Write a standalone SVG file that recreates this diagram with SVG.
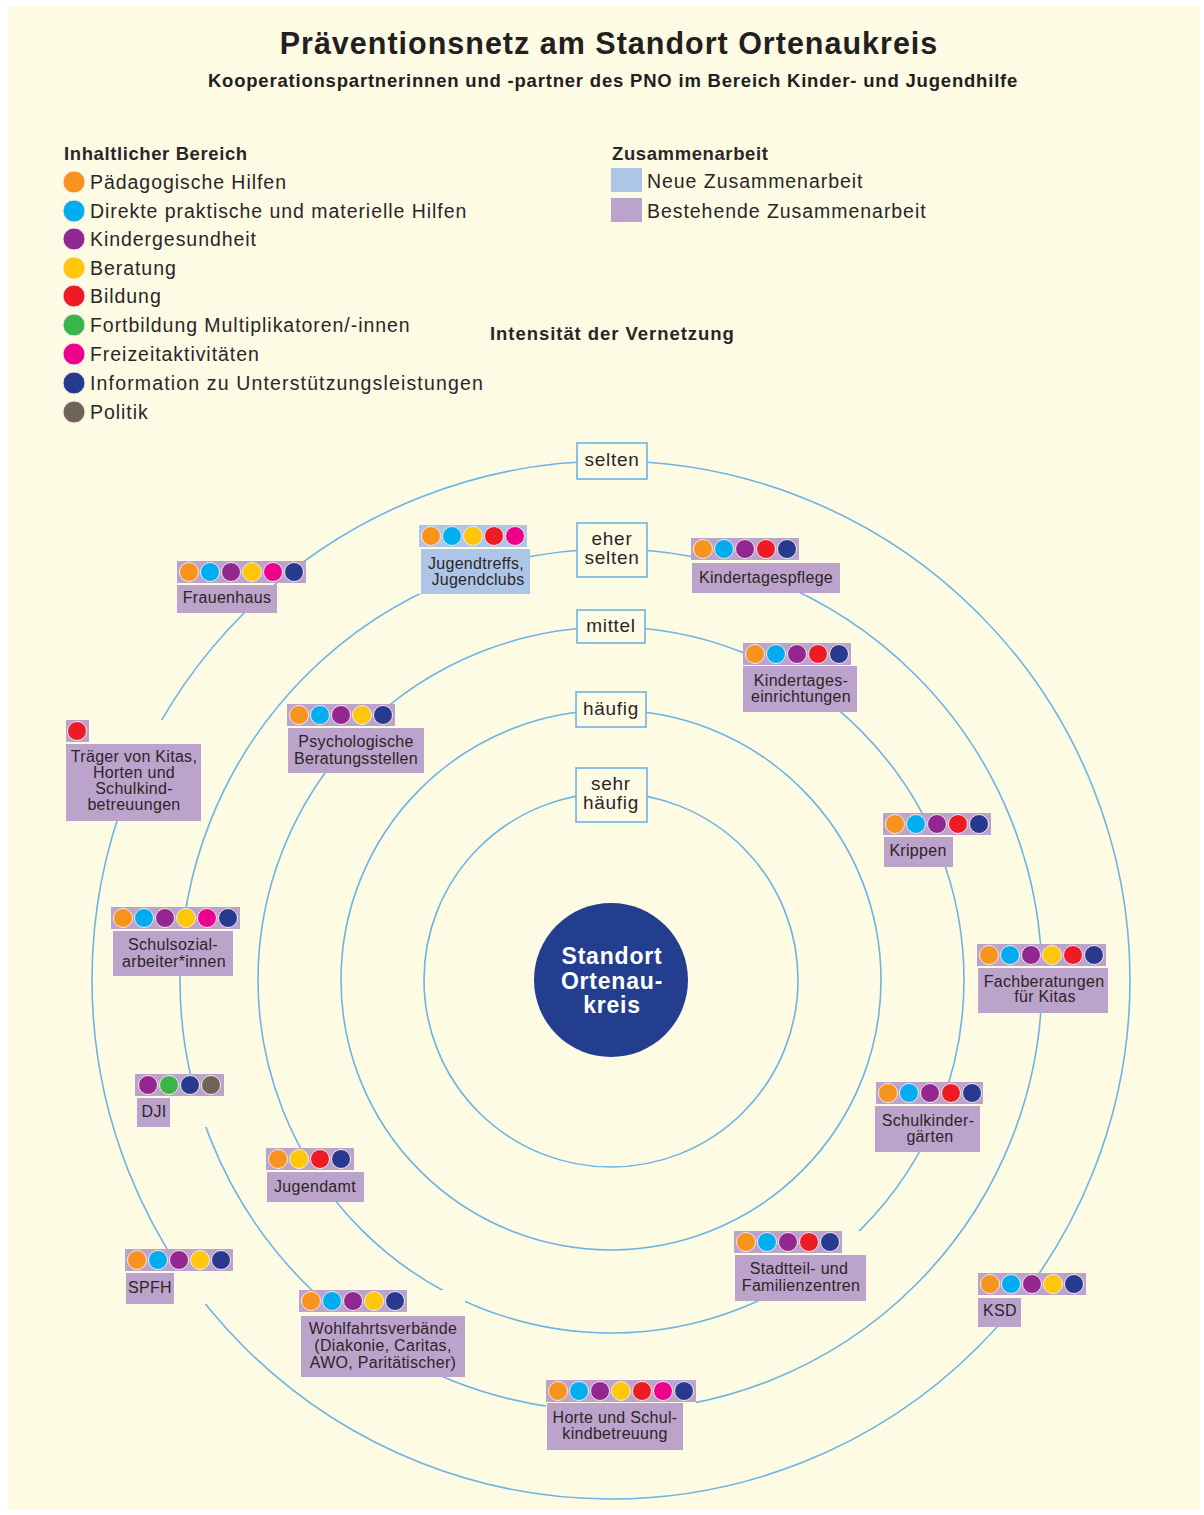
<svg xmlns="http://www.w3.org/2000/svg" width="1204" height="1515" viewBox="0 0 1204 1515">
<style>
.ring{fill:none;stroke:#6db3e3;stroke-width:1.6}
.rl{fill:#fefbe5;stroke:#6db3e3;stroke-width:1.6}
.rt{font-family:"Liberation Sans",Arial,sans-serif;font-size:19px;fill:#2b2626;text-anchor:middle;letter-spacing:0.7px}
.ex{fill:#bca3cc}
.nw{fill:#adc6e8}
.bk{fill:#fefbe5}
.lt{font-family:"Liberation Sans",Arial,sans-serif;font-size:16px;fill:#2b2626;text-anchor:middle;letter-spacing:0.3px}
.lg{font-family:"Liberation Sans",Arial,sans-serif;font-size:19.5px;fill:#2b2626;letter-spacing:0.95px}
.hd{font-family:"Liberation Sans",Arial,sans-serif;font-size:18.5px;font-weight:bold;fill:#2b2626;letter-spacing:0.6px}
.d{stroke:#f6e9ef;stroke-width:1}
.o{fill:#f7941d}.c{fill:#00aeef}.p{fill:#92278f}.y{fill:#ffc70a}.r{fill:#ed1c24}.g{fill:#39b54a}.m{fill:#ec008c}.n{fill:#283a8e}.b{fill:#6f6456}
</style>
<rect x="0" y="0" width="1204" height="1515" fill="#ffffff"/>
<rect x="8" y="6" width="1192" height="1504" fill="#fefbe5"/>

<g id="title">
<text x="609" y="54" font-family="Liberation Sans, Arial, sans-serif" font-size="30.5" font-weight="bold" fill="#231f20" text-anchor="middle" letter-spacing="1">Präventionsnetz am Standort Ortenaukreis</text>
<text x="613" y="87" font-family="Liberation Sans, Arial, sans-serif" font-size="18.5" font-weight="bold" fill="#231f20" text-anchor="middle" letter-spacing="0.8">Kooperationspartnerinnen und -partner des PNO im Bereich Kinder- und Jugendhilfe</text>
</g>

<g id="legend-bereich">
<text class="hd" x="64" y="160">Inhaltlicher Bereich</text>
<circle class="d o" cx="74" cy="182" r="11"/><text class="lg" x="90" y="189">Pädagogische Hilfen</text>
<circle class="d c" cx="74" cy="211" r="11"/><text class="lg" x="90" y="218">Direkte praktische und materielle Hilfen</text>
<circle class="d p" cx="74" cy="239" r="11"/><text class="lg" x="90" y="246">Kindergesundheit</text>
<circle class="d y" cx="74" cy="268" r="11"/><text class="lg" x="90" y="275">Beratung</text>
<circle class="d r" cx="74" cy="296" r="11"/><text class="lg" x="90" y="303">Bildung</text>
<circle class="d g" cx="74" cy="325" r="11"/><text class="lg" x="90" y="332">Fortbildung Multiplikatoren/-innen</text>
<circle class="d m" cx="74" cy="354" r="11"/><text class="lg" x="90" y="361">Freizeitaktivitäten</text>
<circle class="d n" cx="74" cy="383" r="11"/><text class="lg" x="90" y="390" style="letter-spacing:1.15px">Information zu Unterstützungsleistungen</text>
<circle class="d b" cx="74" cy="412" r="11"/><text class="lg" x="90" y="419">Politik</text>
</g>

<g id="legend-zusammenarbeit">
<text class="hd" x="612" y="160">Zusammenarbeit</text>
<rect class="nw" x="611" y="168" width="31" height="24"/><text class="lg" x="647" y="188">Neue Zusammenarbeit</text>
<rect class="ex" x="611" y="198" width="31" height="24"/><text class="lg" x="647" y="218">Bestehende Zusammenarbeit</text>
<text class="hd" x="490" y="340" style="letter-spacing:0.95px">Intensität der Vernetzung</text>
</g>

<g id="rings">
<circle class="ring" cx="611" cy="980" r="187"/>
<circle class="ring" cx="611" cy="980" r="270"/>
<circle class="ring" cx="611" cy="980" r="353"/>
<circle class="ring" cx="611" cy="980" r="431"/>
<circle class="ring" cx="611" cy="980" r="519"/>
</g>

<g id="ring-labels">
<rect class="rl" x="577" y="443" width="70" height="36"/><text class="rt" x="612" y="466">selten</text>
<rect class="rl" x="577" y="523" width="70" height="54"/><text class="rt" x="612" y="545">eher</text><text class="rt" x="612" y="564">selten</text>
<rect class="rl" x="577" y="610" width="68" height="33"/><text class="rt" x="611" y="632">mittel</text>
<rect class="rl" x="576" y="692" width="70" height="35"/><text class="rt" x="611" y="715">häufig</text>
<rect class="rl" x="576" y="768" width="71" height="54"/><text class="rt" x="611" y="790">sehr</text><text class="rt" x="611" y="809">häufig</text>
</g>

<g id="center">
<circle cx="611" cy="980" r="77" fill="#233e8f"/>
<g font-family="Liberation Sans, Arial, sans-serif" font-size="23" font-weight="bold" fill="#ffffff" text-anchor="middle" letter-spacing="0.8">
<text x="612" y="964">Standort</text>
<text x="612" y="989">Ortenau-</text>
<text x="612" y="1013">kreis</text>
</g>
</g>

<g id="node-frauenhaus">
<rect class="ex" x="177" y="561" width="129" height="22"/>
<circle class="d o" cx="189" cy="572" r="9.5"/><circle class="d c" cx="210" cy="572" r="9.5"/><circle class="d p" cx="231" cy="572" r="9.5"/><circle class="d y" cx="252" cy="572" r="9.5"/><circle class="d m" cx="273" cy="572" r="9.5"/><circle class="d n" cx="294" cy="572" r="9.5"/>
<rect class="ex" x="177" y="585" width="100" height="28"/>
<text class="lt" x="227" y="603">Frauenhaus</text>
</g>

<g id="node-jugendtreffs">
<rect class="bk" x="419" y="525" width="111" height="69"/>
<rect class="nw" x="419" y="525" width="108" height="22"/>
<circle class="d o" cx="431" cy="536" r="9.5"/><circle class="d c" cx="452" cy="536" r="9.5"/><circle class="d y" cx="473" cy="536" r="9.5"/><circle class="d r" cx="494" cy="536" r="9.5"/><circle class="d m" cx="515" cy="536" r="9.5"/>
<rect class="nw" x="421" y="549" width="109" height="45"/>
<text class="lt" x="476" y="569">Jugendtreffs,</text>
<text class="lt" x="478" y="585">Jugendclubs</text>
</g>

<g id="node-kindertagespflege">
<rect class="bk" x="691" y="538" width="149" height="55"/>
<rect class="ex" x="691" y="538" width="108" height="22"/>
<circle class="d o" cx="703" cy="549" r="9.5"/><circle class="d c" cx="724" cy="549" r="9.5"/><circle class="d p" cx="745" cy="549" r="9.5"/><circle class="d r" cx="766" cy="549" r="9.5"/><circle class="d n" cx="787" cy="549" r="9.5"/>
<rect class="ex" x="692" y="563" width="148" height="30"/>
<text class="lt" x="766" y="583">Kindertagespflege</text>
</g>

<g id="node-psychologische">
<rect class="bk" x="287" y="704" width="137" height="69"/>
<rect class="ex" x="287" y="704" width="108" height="22"/>
<circle class="d o" cx="299" cy="715" r="9.5"/><circle class="d c" cx="320" cy="715" r="9.5"/><circle class="d p" cx="341" cy="715" r="9.5"/><circle class="d y" cx="362" cy="715" r="9.5"/><circle class="d n" cx="383" cy="715" r="9.5"/>
<rect class="ex" x="288" y="728" width="136" height="45"/>
<text class="lt" x="356" y="747">Psychologische</text>
<text class="lt" x="356" y="764">Beratungsstellen</text>
</g>

<g id="node-kindertageseinrichtungen">
<rect class="bk" x="743" y="643" width="114" height="69"/>
<rect class="ex" x="743" y="643" width="108" height="22"/>
<circle class="d o" cx="755" cy="654" r="9.5"/><circle class="d c" cx="776" cy="654" r="9.5"/><circle class="d p" cx="797" cy="654" r="9.5"/><circle class="d r" cx="818" cy="654" r="9.5"/><circle class="d n" cx="839" cy="654" r="9.5"/>
<rect class="ex" x="743" y="666" width="114" height="46"/>
<text class="lt" x="801" y="686">Kindertages-</text>
<text class="lt" x="801" y="702">einrichtungen</text>
</g>

<g id="node-krippen">
<rect class="bk" x="883" y="813" width="108" height="54"/>
<rect class="ex" x="883" y="813" width="108" height="22"/>
<circle class="d o" cx="895" cy="824" r="9.5"/><circle class="d c" cx="916" cy="824" r="9.5"/><circle class="d p" cx="937" cy="824" r="9.5"/><circle class="d r" cx="958" cy="824" r="9.5"/><circle class="d n" cx="979" cy="824" r="9.5"/>
<rect class="ex" x="884" y="837" width="69" height="30"/>
<text class="lt" x="918" y="856">Krippen</text>
</g>

<g id="node-fachberatungen">
<rect class="bk" x="977" y="944" width="131" height="69"/>
<rect class="ex" x="977" y="944" width="129" height="22"/>
<circle class="d o" cx="989" cy="955" r="9.5"/><circle class="d c" cx="1010" cy="955" r="9.5"/><circle class="d p" cx="1031" cy="955" r="9.5"/><circle class="d y" cx="1052" cy="955" r="9.5"/><circle class="d r" cx="1073" cy="955" r="9.5"/><circle class="d n" cx="1094" cy="955" r="9.5"/>
<rect class="ex" x="978" y="968" width="130" height="45"/>
<text class="lt" x="1044" y="987">Fachberatungen</text>
<text class="lt" x="1045" y="1002">für Kitas</text>
</g>

<g id="node-traeger">
<rect class="bk" x="66" y="720" width="135" height="101"/>
<rect class="ex" x="66" y="720" width="23" height="22"/>
<circle class="d r" cx="77" cy="731" r="9.5"/>
<rect class="ex" x="66" y="744" width="135" height="77"/>
<text class="lt" x="134" y="762">Träger von Kitas,</text>
<text class="lt" x="134" y="778">Horten und</text>
<text class="lt" x="134" y="794">Schulkind-</text>
<text class="lt" x="134" y="810">betreuungen</text>
</g>

<g id="node-schulsozial">
<rect class="bk" x="111" y="907" width="129" height="69"/>
<rect class="ex" x="111" y="907" width="129" height="22"/>
<circle class="d o" cx="123" cy="918" r="9.5"/><circle class="d c" cx="144" cy="918" r="9.5"/><circle class="d p" cx="165" cy="918" r="9.5"/><circle class="d y" cx="186" cy="918" r="9.5"/><circle class="d m" cx="207" cy="918" r="9.5"/><circle class="d n" cx="228" cy="918" r="9.5"/>
<rect class="ex" x="113" y="931" width="120" height="45"/>
<text class="lt" x="173" y="950">Schulsozial-</text>
<text class="lt" x="174" y="967">arbeiter*innen</text>
</g>

<g id="node-dji">
<rect class="bk" x="135" y="1074" width="89" height="53"/>
<rect class="ex" x="135" y="1074" width="89" height="22"/>
<circle class="d p" cx="148" cy="1085" r="9.5"/><circle class="d g" cx="169" cy="1085" r="9.5"/><circle class="d n" cx="190" cy="1085" r="9.5"/><circle class="d b" cx="211" cy="1085" r="9.5"/>
<rect class="ex" x="137" y="1098" width="33" height="29"/>
<text class="lt" x="154" y="1117">DJI</text>
</g>

<g id="node-jugendamt">
<rect class="bk" x="266" y="1148" width="98" height="54"/>
<rect class="ex" x="266" y="1148" width="88" height="22"/>
<circle class="d o" cx="278" cy="1159" r="9.5"/><circle class="d y" cx="299" cy="1159" r="9.5"/><circle class="d r" cx="320" cy="1159" r="9.5"/><circle class="d n" cx="341" cy="1159" r="9.5"/>
<rect class="ex" x="267" y="1172" width="97" height="30"/>
<text class="lt" x="315" y="1192">Jugendamt</text>
</g>

<g id="node-schulkindergaerten">
<rect class="bk" x="875" y="1082" width="108" height="70"/>
<rect class="ex" x="876" y="1082" width="107" height="22"/>
<circle class="d o" cx="888" cy="1093" r="9.5"/><circle class="d c" cx="909" cy="1093" r="9.5"/><circle class="d p" cx="930" cy="1093" r="9.5"/><circle class="d r" cx="951" cy="1093" r="9.5"/><circle class="d n" cx="972" cy="1093" r="9.5"/>
<rect class="ex" x="875" y="1106" width="105" height="46"/>
<text class="lt" x="928" y="1126">Schulkinder-</text>
<text class="lt" x="930" y="1142">gärten</text>
</g>

<g id="node-stadtteil">
<rect class="bk" x="734" y="1231" width="132" height="70"/>
<rect class="ex" x="734" y="1231" width="108" height="22"/>
<circle class="d o" cx="746" cy="1242" r="9.5"/><circle class="d c" cx="767" cy="1242" r="9.5"/><circle class="d p" cx="788" cy="1242" r="9.5"/><circle class="d r" cx="809" cy="1242" r="9.5"/><circle class="d n" cx="830" cy="1242" r="9.5"/>
<rect class="ex" x="735" y="1255" width="131" height="46"/>
<text class="lt" x="799" y="1274">Stadtteil- und</text>
<text class="lt" x="801" y="1291">Familienzentren</text>
</g>

<g id="node-ksd">
<rect class="bk" x="978" y="1273" width="108" height="54"/>
<rect class="ex" x="978" y="1273" width="108" height="22"/>
<circle class="d o" cx="990" cy="1284" r="9.5"/><circle class="d c" cx="1011" cy="1284" r="9.5"/><circle class="d p" cx="1032" cy="1284" r="9.5"/><circle class="d y" cx="1053" cy="1284" r="9.5"/><circle class="d n" cx="1074" cy="1284" r="9.5"/>
<rect class="ex" x="978" y="1298" width="43" height="29"/>
<text class="lt" x="1000" y="1316">KSD</text>
</g>

<g id="node-spfh">
<rect class="bk" x="125" y="1249" width="108" height="55"/>
<rect class="ex" x="125" y="1249" width="108" height="22"/>
<circle class="d o" cx="137" cy="1260" r="9.5"/><circle class="d c" cx="158" cy="1260" r="9.5"/><circle class="d p" cx="179" cy="1260" r="9.5"/><circle class="d y" cx="200" cy="1260" r="9.5"/><circle class="d n" cx="221" cy="1260" r="9.5"/>
<rect class="ex" x="126" y="1273" width="48" height="31"/>
<text class="lt" x="150" y="1293">SPFH</text>
</g>

<g id="node-wohlfahrt">
<rect class="bk" x="299" y="1290" width="166" height="87"/>
<rect class="ex" x="299" y="1290" width="108" height="22"/>
<circle class="d o" cx="311" cy="1301" r="9.5"/><circle class="d c" cx="332" cy="1301" r="9.5"/><circle class="d p" cx="353" cy="1301" r="9.5"/><circle class="d y" cx="374" cy="1301" r="9.5"/><circle class="d n" cx="395" cy="1301" r="9.5"/>
<rect class="ex" x="301" y="1316" width="164" height="61"/>
<text class="lt" x="383" y="1334">Wohlfahrtsverbände</text>
<text class="lt" x="383" y="1351">(Diakonie, Caritas,</text>
<text class="lt" x="383" y="1368">AWO, Paritätischer)</text>
</g>

<g id="node-horte">
<rect class="bk" x="546" y="1380" width="150" height="70"/>
<rect class="ex" x="546" y="1380" width="150" height="22"/>
<circle class="d o" cx="558" cy="1391" r="9.5"/><circle class="d c" cx="579" cy="1391" r="9.5"/><circle class="d p" cx="600" cy="1391" r="9.5"/><circle class="d y" cx="621" cy="1391" r="9.5"/><circle class="d r" cx="642" cy="1391" r="9.5"/><circle class="d m" cx="663" cy="1391" r="9.5"/><circle class="d n" cx="684" cy="1391" r="9.5"/>
<rect class="ex" x="547" y="1403" width="136" height="47"/>
<text class="lt" x="615" y="1423">Horte und Schul-</text>
<text class="lt" x="615" y="1439">kindbetreuung</text>
</g>
</svg>
